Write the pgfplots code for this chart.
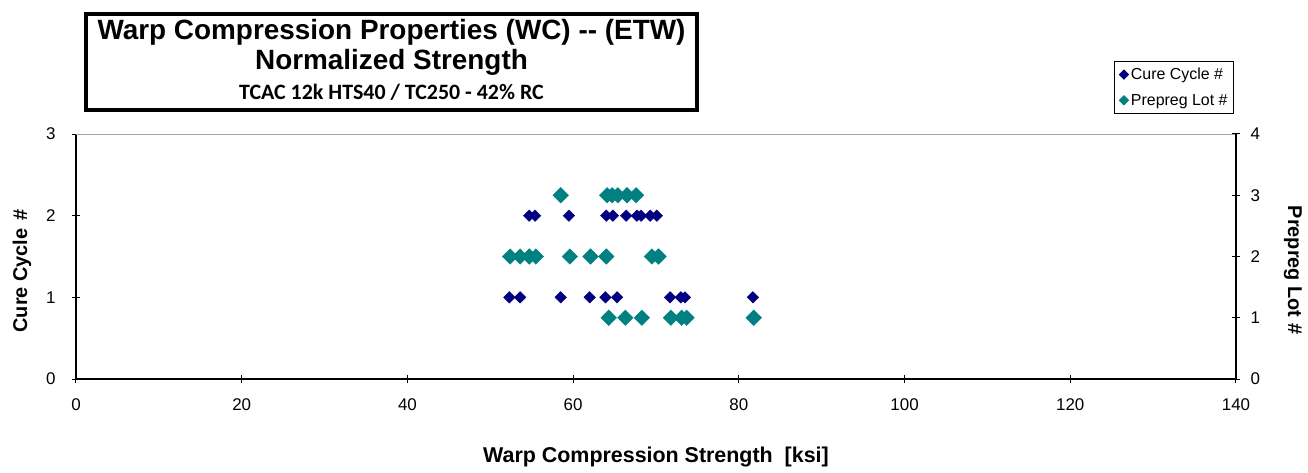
\documentclass[border=0pt]{standalone}
\usepackage{pgfplots}
\pgfplotsset{compat=1.18}
\usepackage{fontspec}
\setmainfont{Liberation Sans}
\newfontfamily\calibri{Carlito}
\definecolor{navyc}{HTML}{000080}
\definecolor{tealc}{HTML}{008080}
\begin{document}
\begin{tikzpicture}
\begin{axis}[
  scale only axis, width=1160bp, height=245bp,
  xmin=0, xmax=140, ymin=0, ymax=3,
  axis x line*=bottom, axis y line*=left,
  xtick={0,20,...,140}, ytick={0,1,2,3},
  tick align=center, major tick length=8bp,
  axis line style={line width=1.6bp, -, black},
  tick style={line width=1bp, black},
  ticklabel style={font=\fontsize{17}{20}\selectfont},
  xticklabel style={yshift=-12bp},
  yticklabel style={xshift=-13bp},
  /pgf/number format/assume math mode=true,
  xlabel={Warp Compression Strength\ \ [ksi]},
  xlabel style={at={(axis description cs:0.5,-0.318)}, anchor=center, font=\bfseries\fontsize{21.5}{24}\selectfont},
  ylabel={Cure Cycle\hspace{0.4em}\#},
  ylabel style={at={(axis description cs:-0.0466,0.441)}, anchor=center, font=\bfseries\fontsize{20}{24}\selectfont},
  clip=false,
]
\addplot[only marks, mark=square*, mark size=4.1bp, mark options={rotate=45, fill=navyc, draw=navyc}, color=navyc] coordinates {
 (52.3,1) (53.6,1) (58.5,1) (62.0,1) (63.9,1) (65.3,1) (71.7,1) (73.0,1) (73.5,1) (81.7,1)
 (54.7,2) (55.4,2) (59.5,2) (64.0,2) (64.8,2) (66.4,2) (67.7,2) (68.2,2) (69.3,2) (70.1,2)
};
\draw[gray!70, line width=1bp] (rel axis cs:0,1) -- (rel axis cs:1,1);
\coordinate (ll) at (rel axis cs:0,0);
\end{axis}
\begin{axis}[
  scale only axis, width=1160bp, height=245bp,
  xmin=0, xmax=140, ymin=0, ymax=4,
  axis x line=none, axis y line*=right,
  ytick={0,1,2,3,4},
  tick align=center, major tick length=8bp,
  axis line style={line width=1.6bp, -, black},
  tick style={line width=1bp, black},
  ticklabel style={font=\fontsize{17}{20}\selectfont},
  yticklabel style={xshift=7bp},
  /pgf/number format/assume math mode=true,
  ylabel={Prepreg Lot \#},
  ylabel style={at={(axis description cs:1.049,0.445)}, anchor=center, rotate=180, font=\bfseries\fontsize{20}{24}\selectfont},
  legend style={at={(axis description cs:0.9983,1.0816)}, anchor=south east, draw=black, line width=1bp,
    font=\fontsize{16}{19}\selectfont, row sep=9bp, inner xsep=4bp, inner ysep=5bp},
  legend cell align=left,
  clip=false,
]
\addlegendimage{legend image code/.code={\fill[navyc] (0.1cm,0) +(0,4.5bp) -- +(4.5bp,0) -- +(0,-4.5bp) -- +(-4.5bp,0) -- cycle;}}
\addlegendentry{Cure Cycle \#}
\addplot[only marks, mark=square*, mark size=5.5bp, mark options={rotate=45, fill=tealc, draw=tealc}, color=tealc,
  legend image code/.code={\fill[tealc] (0.1cm,0) +(0,4.5bp) -- +(4.5bp,0) -- +(0,-4.5bp) -- +(-4.5bp,0) -- cycle;}] coordinates {
 (64.3,1) (66.3,1) (68.3,1) (71.8,1) (73.1,1) (73.7,1) (81.8,1)
 (52.4,2) (53.6,2) (54.7,2) (55.5,2) (59.6,2) (62.1,2) (64.0,2) (69.5,2) (70.3,2)
 (58.5,3) (64.1,3) (64.7,3) (65.4,3) (66.5,3) (67.6,3)
};
\addlegendentry{Prepreg Lot \#}
\end{axis}
\draw[line width=3.5bp] ([shift={(10bp,269bp)}]ll) rectangle ([shift={(621bp,365bp)}]ll);
\node[font=\bfseries\fontsize{28}{32}\selectfont] at ([shift={(315.5bp,347bp)}]ll) {Warp Compression Properties (WC) {-}{-} (ETW)};
\node[font=\bfseries\fontsize{28}{32}\selectfont] at ([shift={(315.5bp,317bp)}]ll) {Normalized Strength};
\node[font=\calibri\bfseries\fontsize{22}{24}\selectfont] at ([shift={(315.5bp,287bp)}]ll) {TCAC 12k HTS40 / TC250 - 42\% RC};
\pgfresetboundingbox
\path ([shift={(-76bp,-94bp)}]ll) rectangle ([shift={(1232bp,379bp)}]ll);
\end{tikzpicture}
\end{document}
